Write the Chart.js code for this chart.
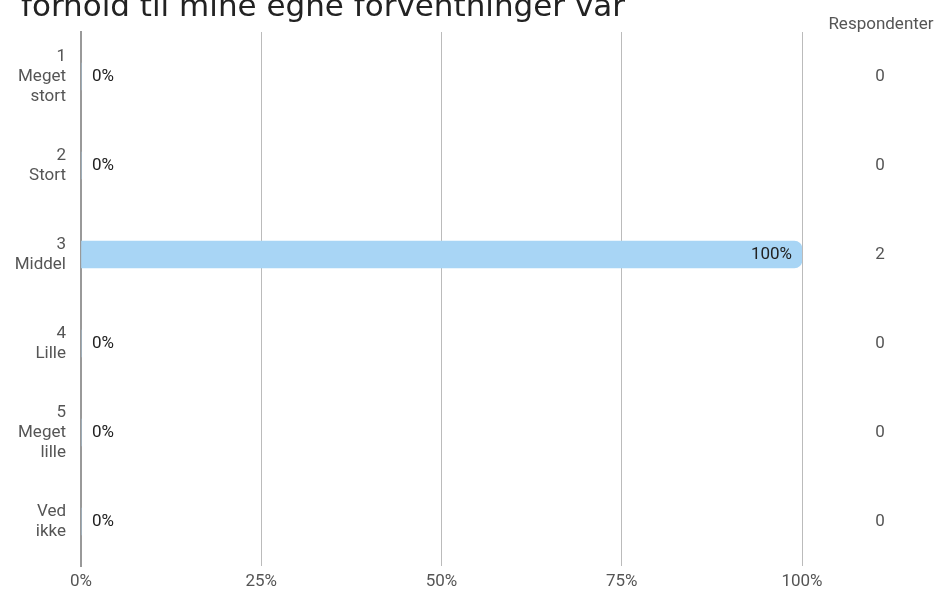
<!DOCTYPE html>
<html>
<head>
<meta charset="utf-8">
<script src="https://cdn.jsdelivr.net/npm/chart.js@4/dist/chart.umd.min.js"></script>
<style>
html,body{margin:0;padding:0;background:#fff;}
#wrap{position:relative;width:950px;height:592px;overflow:hidden;}
#title{position:absolute;left:21px;top:-10px;font-family:"DejaVu Sans";font-size:31px;line-height:30px;color:#222;white-space:nowrap;}
canvas{position:absolute;left:0;top:0;}
</style>
</head>
<body>
<div id="wrap">
<canvas id="c" width="950" height="592"></canvas>
<div id="title">forhold til mine egne forventninger var</div>
</div>
<script>
const categories = [["1","Meget","stort"],["2","Stort"],["3","Middel"],["4","Lille"],["5","Meget","lille"],["Ved","ikke"]];
const percentValues = [0, 0, 100, 0, 0, 0];
const respondents = [0, 0, 2, 0, 0, 0];
const xTicks = [0, 25, 50, 75, 100];
const countHeader = "Respondenter";

const labelPlugin = {
  id: 'labels',
  afterDatasetsDraw(chart) {
    const ctx = chart.ctx;
    const xs = chart.scales.x;
    const ys = chart.scales.y;
    ctx.save();
    ctx.font = '17px Roboto';
    ctx.textBaseline = 'middle';
    percentValues.forEach((v, i) => {
      const y = ys.getPixelForValue(i);
      ctx.fillStyle = '#222';
      if (v > 0) {
        ctx.textAlign = 'right';
        ctx.fillText(v + '%', xs.getPixelForValue(v) - 10, y);
      } else {
        ctx.textAlign = 'left';
        ctx.fillText(v + '%', xs.getPixelForValue(v) + 11, y);
      }
      ctx.fillStyle = '#555';
      ctx.textAlign = 'center';
      ctx.fillText(String(respondents[i]), 880, y);
    });
    ctx.textAlign = 'center';
    ctx.fillStyle = '#555';
    ctx.fillText(countHeader, 881, 25);
    ctx.restore();
  }
};

new Chart(document.getElementById('c'), {
  type: 'bar',
  data: {
    labels: categories,
    datasets: [{
      data: percentValues,
      backgroundColor: '#a8d5f5',
      barThickness: 27,
      borderRadius: 8,
      borderSkipped: 'start'
    }]
  },
  options: {
    indexAxis: 'y',
    responsive: false,
    animation: false,
    devicePixelRatio: 1,
    layout: { padding: { top: 32, right: 148, bottom: 0, left: 0 } },
    plugins: { legend: { display: false }, tooltip: { enabled: false } },
    scales: {
      x: {
        min: 0, max: 100,
        afterBuildTicks(scale) { scale.ticks = xTicks.map(v => ({ value: v })); },
        afterFit(scale) { scale.height = 26; scale.paddingLeft = 0; scale.paddingRight = 0; },
        ticks: { callback: v => v + '%', color: '#555', font: { family: 'Roboto', size: 17 }, padding: 6 },
        grid: { color: '#bbb', lineWidth: 1, drawTicks: false },
        border: { display: false }
      },
      y: {
        afterFit(scale) { scale.width = 81; scale.paddingTop = 0; scale.paddingBottom = 0; },
        ticks: { color: '#555', font: { family: 'Roboto', size: 17, lineHeight: 20 / 17 }, padding: 15 },
        grid: { display: false, drawTicks: false },
        border: { color: '#999', width: 2 }
      }
    }
  },
  plugins: [labelPlugin]
});
</script>
</body>
</html>
